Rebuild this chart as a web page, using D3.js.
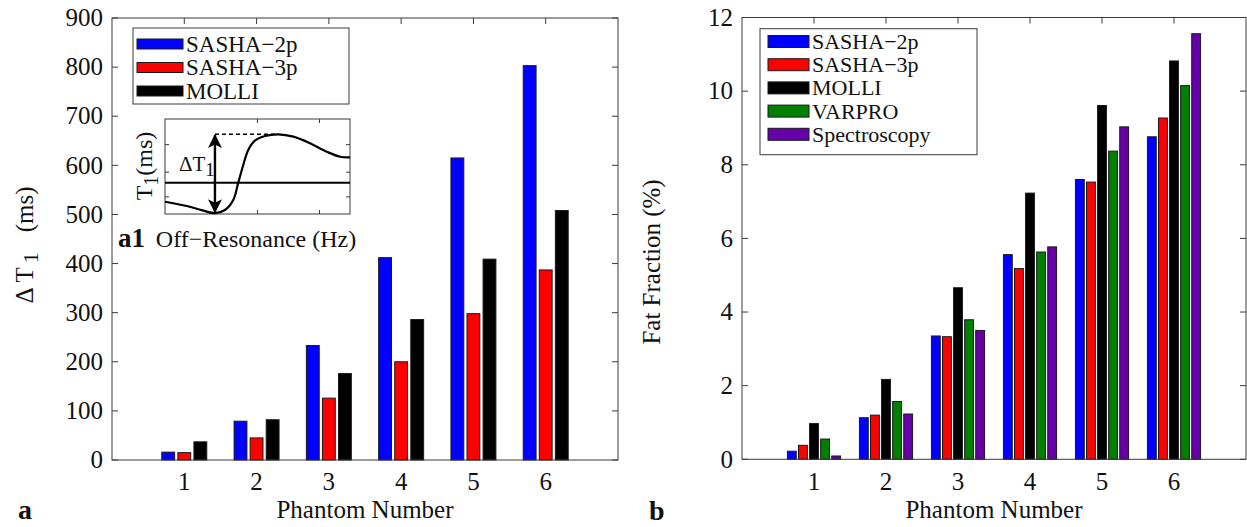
<!DOCTYPE html>
<html>
<head>
<meta charset="utf-8">
<script src="https://cdn.jsdelivr.net/npm/d3@7"></script>
<style>
  body { margin: 0; background: #fff; }
  text { font-family: "Liberation Serif", "Times New Roman", serif; fill: #111; }
</style>
</head>
<body>
<script>
// phantom numbers on the x axis of both panels
const phantoms = [1, 2, 3, 4, 5, 6];

// panel a: T1 variation (ms)
const t1Names = ["SASHA\u22122p", "SASHA\u22123p", "MOLLI"];
const t1Sasha2p = [16, 79, 233, 412, 615, 803];
const t1Sasha3p = [15, 45, 126, 200, 298, 387];
const t1Molli = [37, 82, 176, 286, 409, 508];
const t1Ticks = [0, 100, 200, 300, 400, 500, 600, 700, 800, 900];

// panel b: fat fraction (%)
const ffNames = ["SASHA\u22122p", "SASHA\u22123p", "MOLLI", "VARPRO", "Spectroscopy"];
const ffSasha2p = [0.22, 1.13, 3.35, 5.56, 7.60, 8.76];
const ffSasha3p = [0.38, 1.20, 3.33, 5.18, 7.53, 9.27];
const ffMolli = [0.97, 2.17, 4.66, 7.23, 9.61, 10.82];
const ffVarpro = [0.55, 1.57, 3.79, 5.63, 8.37, 10.15];
const ffSpectro = [0.09, 1.23, 3.50, 5.77, 9.03, 11.56];
const ffTicks = [0, 2, 4, 6, 8, 10, 12];

// inset a1: T1 against off-resonance (arbitrary units 0..100)
const insetOffRes = [0, 11.8, 20.7, 27, 32.4, 36.9, 39.6, 42.3, 45, 48.6, 54.1, 61.2, 69.4, 78.4, 87.4, 94.6, 100];
const insetT1 = [12.9, 8.4, 3.5, 1, 4.2, 14.7, 33, 51.6, 67.4, 77.2, 82.1, 83.9, 81.4, 74.4, 65.6, 60.3, 59.7];
const insetFlat = 33;
const insetArrowX = 27, insetArrowLo = 1, insetArrowHi = 84, insetDashEnd = 61;
const insetXTicks = [50, 83.5];
const insetYTicks = [18, 44, 73];

const colors = ["#0000ff", "#ff0000", "#000000", "#008000", "#6600aa"];

const svg = d3.select("body").append("svg")
  .attr("width", 1247)
  .attr("height", 527);

const axisColor = "#3a3a3a";

function panel(p) {
  const g = svg.append("g");
  const x = d3.scaleLinear().domain([0, 7]).range([p.left, p.right]);
  const y = d3.scaleLinear().domain([0, p.yMax]).range([p.bottom, p.top]);
  const tl = 6;

  // ticks on all four sides, pointing in
  g.selectAll("line.yt").data(p.yTicks).join("line")
    .attr("x1", p.left).attr("x2", p.left + tl)
    .attr("y1", d => y(d)).attr("y2", d => y(d))
    .attr("stroke", axisColor);
  g.selectAll("line.yt2").data(p.yTicks).join("line")
    .attr("x1", p.right).attr("x2", p.right - tl)
    .attr("y1", d => y(d)).attr("y2", d => y(d))
    .attr("stroke", axisColor);
  g.selectAll("line.xt").data(phantoms).join("line")
    .attr("x1", d => x(d)).attr("x2", d => x(d))
    .attr("y1", p.top).attr("y2", p.top + tl)
    .attr("stroke", axisColor);
  g.selectAll("line.xt2").data(phantoms).join("line")
    .attr("x1", d => x(d)).attr("x2", d => x(d))
    .attr("y1", p.bottom).attr("y2", p.bottom - tl)
    .attr("stroke", axisColor);

  // grouped bars, matlab style
  const n = p.values.length;
  const groupW = Math.min(0.8, n / (n + 1.5));
  const pitch = groupW / n;
  p.values.forEach((vals, i) => {
    const off = (i - (n - 1) / 2) * pitch;
    g.append("g").selectAll("rect").data(vals).join("rect")
      .attr("x", (d, j) => x(phantoms[j] + off - pitch * 0.4))
      .attr("width", x(pitch * 0.8) - x(0))
      .attr("y", d => y(d))
      .attr("height", d => y(0) - y(d))
      .attr("fill", colors[i])
      .attr("stroke", "#1a1a1a")
      .attr("stroke-width", 1);
  });

  g.append("rect")
    .attr("x", p.left).attr("y", p.top)
    .attr("width", p.right - p.left).attr("height", p.bottom - p.top)
    .attr("fill", "none").attr("stroke", axisColor);

  g.selectAll("text.yl").data(p.yTicks).join("text")
    .attr("x", p.left - 9).attr("y", d => y(d)).attr("dy", "0.33em")
    .attr("text-anchor", "end").attr("font-size", 25)
    .text(d => d);
  g.selectAll("text.xl").data(phantoms).join("text")
    .attr("x", d => x(d)).attr("y", 490)
    .attr("text-anchor", "middle").attr("font-size", 25)
    .text(d => d);
  g.append("text")
    .attr("x", (p.left + p.right) / 2).attr("y", 518)
    .attr("text-anchor", "middle").attr("font-size", 25)
    .text("Phantom Number");
  return g;
}

function legend(l) {
  const g = svg.append("g");
  g.append("rect")
    .attr("x", l.x).attr("y", l.y).attr("width", l.w).attr("height", l.h)
    .attr("fill", "#fff").attr("stroke", axisColor);
  l.names.forEach((name, i) => {
    const cy = l.y0 + i * l.step;
    g.append("rect")
      .attr("x", l.sx).attr("y", cy - l.sh / 2)
      .attr("width", l.sw).attr("height", l.sh)
      .attr("fill", colors[i]).attr("stroke", "#1a1a1a");
    g.append("text")
      .attr("x", l.sx + l.sw + 3).attr("y", cy + 7.5)
      .attr("font-size", l.fs)
      .text(name);
  });
}

// ---- panel a
panel({left: 112, right: 618, top: 18, bottom: 460, yMax: 900, yTicks: t1Ticks,
  values: [t1Sasha2p, t1Sasha3p, t1Molli]});
legend({x: 133, y: 28, w: 216, h: 76, sx: 137, sw: 46, sh: 10, y0: 44, step: 23.5, fs: 23, names: t1Names});

svg.append("text")
  .attr("transform", "translate(33,245) rotate(-90)")
  .attr("text-anchor", "middle").attr("font-size", 25)
  .call(t => {
    t.append("tspan").text("\u0394 T");
    t.append("tspan").attr("dy", 5).attr("font-size", 22).attr("dx", 4).text("1");
    t.append("tspan").attr("dy", -5).attr("dx", 20).text("(ms)");
  });

// ---- inset a1
const ix = d3.scaleLinear().domain([0, 100]).range([165, 350]);
const iy = d3.scaleLinear().domain([0, 100]).range([214, 119]);
const inset = svg.append("g");
inset.append("rect")
  .attr("x", 165).attr("y", 119).attr("width", 185).attr("height", 95)
  .attr("fill", "#fff").attr("stroke", axisColor);
insetXTicks.forEach(t => {
  inset.append("line").attr("x1", ix(t)).attr("x2", ix(t)).attr("y1", iy(100)).attr("y2", iy(100) + 4).attr("stroke", axisColor);
  inset.append("line").attr("x1", ix(t)).attr("x2", ix(t)).attr("y1", iy(0)).attr("y2", iy(0) - 4).attr("stroke", axisColor);
});
insetYTicks.forEach(t => {
  inset.append("line").attr("x1", ix(0)).attr("x2", ix(0) + 4).attr("y1", iy(t)).attr("y2", iy(t)).attr("stroke", axisColor);
  inset.append("line").attr("x1", ix(100)).attr("x2", ix(100) - 4).attr("y1", iy(t)).attr("y2", iy(t)).attr("stroke", axisColor);
});
inset.append("line")
  .attr("x1", ix(0)).attr("x2", ix(100)).attr("y1", iy(insetFlat)).attr("y2", iy(insetFlat))
  .attr("stroke", "#000").attr("stroke-width", 2);
inset.append("path")
  .datum(insetOffRes.map((d, i) => [d, insetT1[i]]))
  .attr("d", d3.line().x(d => ix(d[0])).y(d => iy(d[1])).curve(d3.curveCatmullRom))
  .attr("fill", "none").attr("stroke", "#000").attr("stroke-width", 2.2);
inset.append("line")
  .attr("x1", ix(insetArrowX)).attr("x2", ix(insetDashEnd))
  .attr("y1", iy(insetArrowHi)).attr("y2", iy(insetArrowHi))
  .attr("stroke", "#000").attr("stroke-width", 1.6).attr("stroke-dasharray", "4,3");

const defs = svg.append("defs");
defs.append("marker")
  .attr("id", "head").attr("viewBox", "0 0 12 12")
  .attr("refX", 11).attr("refY", 6)
  .attr("markerWidth", 14).attr("markerHeight", 14)
  .attr("markerUnits", "userSpaceOnUse")
  .attr("orient", "auto-start-reverse")
  .append("path").attr("d", "M0,0 L12,6 L0,12 L3,6 Z").attr("fill", "#000");
inset.append("line")
  .attr("x1", ix(insetArrowX)).attr("x2", ix(insetArrowX))
  .attr("y1", iy(insetArrowLo) - 1).attr("y2", iy(insetArrowHi) + 1)
  .attr("stroke", "#000").attr("stroke-width", 2.4)
  .attr("marker-start", "url(#head)").attr("marker-end", "url(#head)");

inset.append("text")
  .attr("x", 179).attr("y", 171).attr("font-size", 21)
  .call(t => {
    t.append("tspan").text("\u0394T");
    t.append("tspan").attr("dy", 5).attr("font-size", 19).text("1");
  });
inset.append("text")
  .attr("transform", "translate(152,166) rotate(-90)")
  .attr("text-anchor", "middle").attr("font-size", 24)
  .call(t => {
    t.append("tspan").text("T");
    t.append("tspan").attr("dy", 6).attr("font-size", 20).text("1");
    t.append("tspan").attr("dy", -6).text("(ms)");
  });
inset.append("text")
  .attr("x", 118).attr("y", 247).attr("font-size", 27).attr("font-weight", "bold")
  .text("a1");
inset.append("text")
  .attr("x", 256).attr("y", 247).attr("text-anchor", "middle").attr("font-size", 24)
  .text("Off\u2212Resonance (Hz)");

// ---- panel b
panel({left: 742, right: 1246, top: 17.5, bottom: 459.3, yMax: 12, yTicks: ffTicks,
  values: [ffSasha2p, ffSasha3p, ffMolli, ffVarpro, ffSpectro]});
legend({x: 760, y: 28.7, w: 217, h: 126, sx: 768, sw: 41, sh: 12, y0: 41.5, step: 23.2, fs: 22, names: ffNames});

svg.append("text")
  .attr("transform", "translate(660,262) rotate(-90)")
  .attr("text-anchor", "middle").attr("font-size", 25)
  .text("Fat Fraction (%)");

// panel letters
svg.append("text").attr("x", 18).attr("y", 519).attr("font-size", 28).attr("font-weight", "bold").text("a");
svg.append("text").attr("x", 649).attr("y", 520).attr("font-size", 28).attr("font-weight", "bold").text("b");
</script>
</body>
</html>
